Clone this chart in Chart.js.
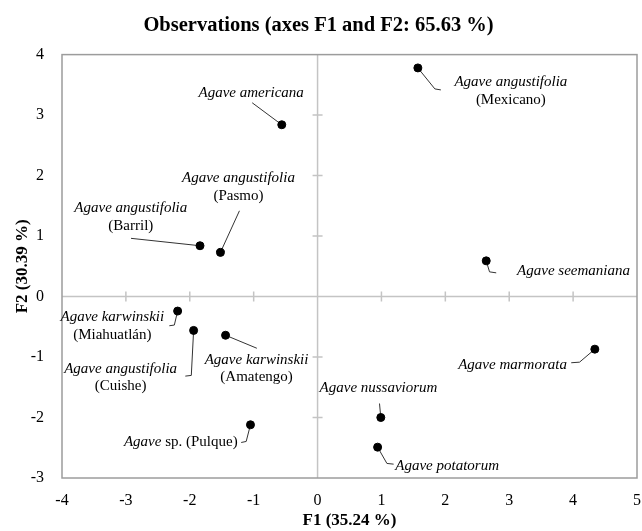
<!DOCTYPE html>
<html>
<head>
<meta charset="utf-8">
<script src="https://cdn.jsdelivr.net/npm/chart.js@4/dist/chart.umd.min.js"></script>
<style>
    body { margin: 0; background: #fff; }
    #pcaChart { display: block; }
</style>
</head>
<body>
<canvas id="pcaChart" width="642" height="531"></canvas>
<script>
// observation scores on F1 / F2
const species = [
    'Agave angustifolia', 'Agave americana', 'Agave angustifolia', 'Agave angustifolia',
    'Agave seemaniana', 'Agave karwinskii', 'Agave angustifolia', 'Agave karwinskii',
    'Agave marmorata', 'Agave nussaviorum', 'Agave potatorum', 'Agave'
];
const variety = [
    '(Mexicano)', '', '(Pasmo)', '(Barril)',
    '', '(Miahuatlán)', '(Cuishe)', '(Amatengo)',
    '', '', '', ' sp. (Pulque)'
];
const f1 = [1.57, -0.56, -1.52, -1.84, 2.64, -2.19, -1.94, -1.44, 4.34, 0.99, 0.94, -1.05];
const f2 = [3.78, 2.84, 0.73, 0.84, 0.59, -0.24, -0.56, -0.64, -0.87, -2.00, -2.49, -2.12];
const xTicks = [-4, -3, -2, -1, 0, 1, 2, 3, 4, 5];
const yTicks = [-3, -2, -1, 0, 1, 2, 3, 4];

// label placement, pixel offsets from each point (text = centre of first line)
const labelLayout = [
    { text: [93, 14.5], leader: [[0, 0], [17, 21], [23, 22]] },
    { text: [-30.6, -32], leader: [[0, 0], [-29.6, -22]] },
    { text: [18, -74], leader: [[0, 0], [19, -41.6]] },
    { text: [-69.2, -37.4], leader: [[0, 0], [-69, -7.4]] },
    { text: [87.3, 10.3], leader: [[0, 0], [3.3, 11], [10, 12]] },
    { text: [-65.3, 6.3], leader: [[0, 0], [-3.3, 14], [-8.3, 14.7]] },
    { text: [-73, 38.3], leader: [[0, 0], [-2.3, 45], [-8.3, 45.7]] },
    { text: [31, 24.7], leader: [[0, 0], [31.3, 13]] },
    { text: [-82.3, 16.3], leader: [[0, 0], [-15.3, 13], [-23.6, 13.6]] },
    { text: [-2.3, -29], leader: [[0, 0], [-1.3, -14]] },
    { text: [69.5, 18.7], leader: [[0, 0], [9.3, 16.3], [16, 17]] },
    { text: [-69.7, 17.7], leader: [[0, 0], [-4.3, 16.7], [-9.3, 17.7]], sameLine: true }
];

const serif = '"Liberation Serif", "Times New Roman", serif';
const lineGap = 17.5;

const points = f1.map((x, i) => ({ x: x, y: f2[i] }));

// box, zero axes with ticks, leader lines
const frameDecor = {
    id: 'frameDecor',
    beforeDatasetsDraw(chart) {
        const { ctx, chartArea: a, scales: { x, y } } = chart;
        const x0 = x.getPixelForValue(0);
        const y0 = y.getPixelForValue(0);
        ctx.save();

        ctx.strokeStyle = '#c4c4c4';
        ctx.lineWidth = 1.5;
        ctx.beginPath();
        ctx.moveTo(x0, a.top); ctx.lineTo(x0, a.bottom);
        ctx.moveTo(a.left, y0); ctx.lineTo(a.right, y0);
        xTicks.forEach(v => {
            if (v === xTicks[0] || v === xTicks[xTicks.length - 1]) return;
            const px = x.getPixelForValue(v);
            ctx.moveTo(px, y0 - 5); ctx.lineTo(px, y0 + 5);
        });
        yTicks.forEach(v => {
            if (v === yTicks[0] || v === yTicks[yTicks.length - 1]) return;
            const py = y.getPixelForValue(v);
            ctx.moveTo(x0 - 5, py); ctx.lineTo(x0 + 5, py);
        });
        ctx.stroke();

        ctx.strokeStyle = '#9c9c9c';
        ctx.lineWidth = 1.5;
        ctx.strokeRect(a.left, a.top, a.right - a.left, a.bottom - a.top);

        ctx.strokeStyle = '#333';
        ctx.lineWidth = 1;
        points.forEach((p, i) => {
            const px = x.getPixelForValue(p.x);
            const py = y.getPixelForValue(p.y);
            const path = labelLayout[i].leader;
            ctx.beginPath();
            path.forEach((o, j) => {
                if (j === 0) ctx.moveTo(px + o[0], py + o[1]);
                else ctx.lineTo(px + o[0], py + o[1]);
            });
            ctx.stroke();
        });
        ctx.restore();
    },
    afterDatasetsDraw(chart) {
        const { ctx, scales: { x, y } } = chart;
        ctx.save();
        ctx.fillStyle = '#000';
        ctx.textBaseline = 'middle';
        ctx.textAlign = 'left';
        points.forEach((p, i) => {
            const lay = labelLayout[i];
            const cx = x.getPixelForValue(p.x) + lay.text[0];
            const cy = y.getPixelForValue(p.y) + lay.text[1];
            let lines;
            if (lay.sameLine) {
                lines = [[[species[i], true], [variety[i], false]]];
            } else {
                lines = [[[species[i], true]]];
                if (variety[i]) lines.push([[variety[i], false]]);
            }
            lines.forEach((segs, li) => {
                let total = 0;
                segs.forEach(s => {
                    ctx.font = (s[1] ? 'italic ' : '') + '15px ' + serif;
                    total += ctx.measureText(s[0]).width;
                });
                let tx = cx - total / 2;
                segs.forEach(s => {
                    ctx.font = (s[1] ? 'italic ' : '') + '15px ' + serif;
                    ctx.fillText(s[0], tx, cy + li * lineGap);
                    tx += ctx.measureText(s[0]).width;
                });
            });
        });
        ctx.restore();
    }
};

const ctx = document.getElementById('pcaChart').getContext('2d');
const pcaChart = new Chart(ctx, {
    type: 'scatter',
    data: {
        datasets: [{
            label: 'Observations',
            data: points,
            backgroundColor: '#000',
            borderColor: '#000',
            pointRadius: 4,
            pointHoverRadius: 4
        }]
    },
    options: {
        responsive: false,
        devicePixelRatio: 1,
        animation: false,
        layout: { padding: { left: 0, right: 5, top: 0, bottom: 0 } },
        plugins: {
            legend: { display: false },
            tooltip: { enabled: false },
            title: {
                display: true,
                text: 'Observations (axes F1 and F2: 65.63 %)',
                color: '#000',
                font: { family: serif, size: 20.5, weight: 'bold' },
                padding: { top: 13, bottom: 17 }
            }
        },
        scales: {
            x: {
                type: 'linear',
                min: xTicks[0],
                max: xTicks[xTicks.length - 1],
                afterBuildTicks: (scale) => { scale.ticks = xTicks.map(v => ({ value: v })); },
                ticks: { color: '#000', font: { family: serif, size: 16 }, padding: 5 },
                grid: { display: false },
                border: { display: false },
                title: {
                    display: true,
                    text: 'F1 (35.24 %)',
                    color: '#000',
                    font: { family: serif, size: 17, weight: 'bold' },
                    padding: 0
                },
                afterFit: (scale) => {
                    scale.height = 53;
                    scale.paddingLeft = 0;
                    scale.paddingRight = 0;
                }
            },
            y: {
                type: 'linear',
                min: yTicks[0],
                max: yTicks[yTicks.length - 1],
                afterBuildTicks: (scale) => { scale.ticks = yTicks.map(v => ({ value: v })); },
                ticks: { color: '#000', font: { family: serif, size: 16 }, padding: 10 },
                grid: { display: false },
                border: { display: false },
                title: {
                    display: true,
                    text: 'F2 (30.39 %)',
                    color: '#000',
                    font: { family: serif, size: 17, weight: 'bold' },
                    padding: { top: 12, bottom: 0 }
                },
                afterFit: (scale) => {
                    scale.width = 62;
                    scale.paddingTop = 0;
                    scale.paddingBottom = 0;
                }
            }
        }
    },
    plugins: [frameDecor]
});
</script>
</body>
</html>
